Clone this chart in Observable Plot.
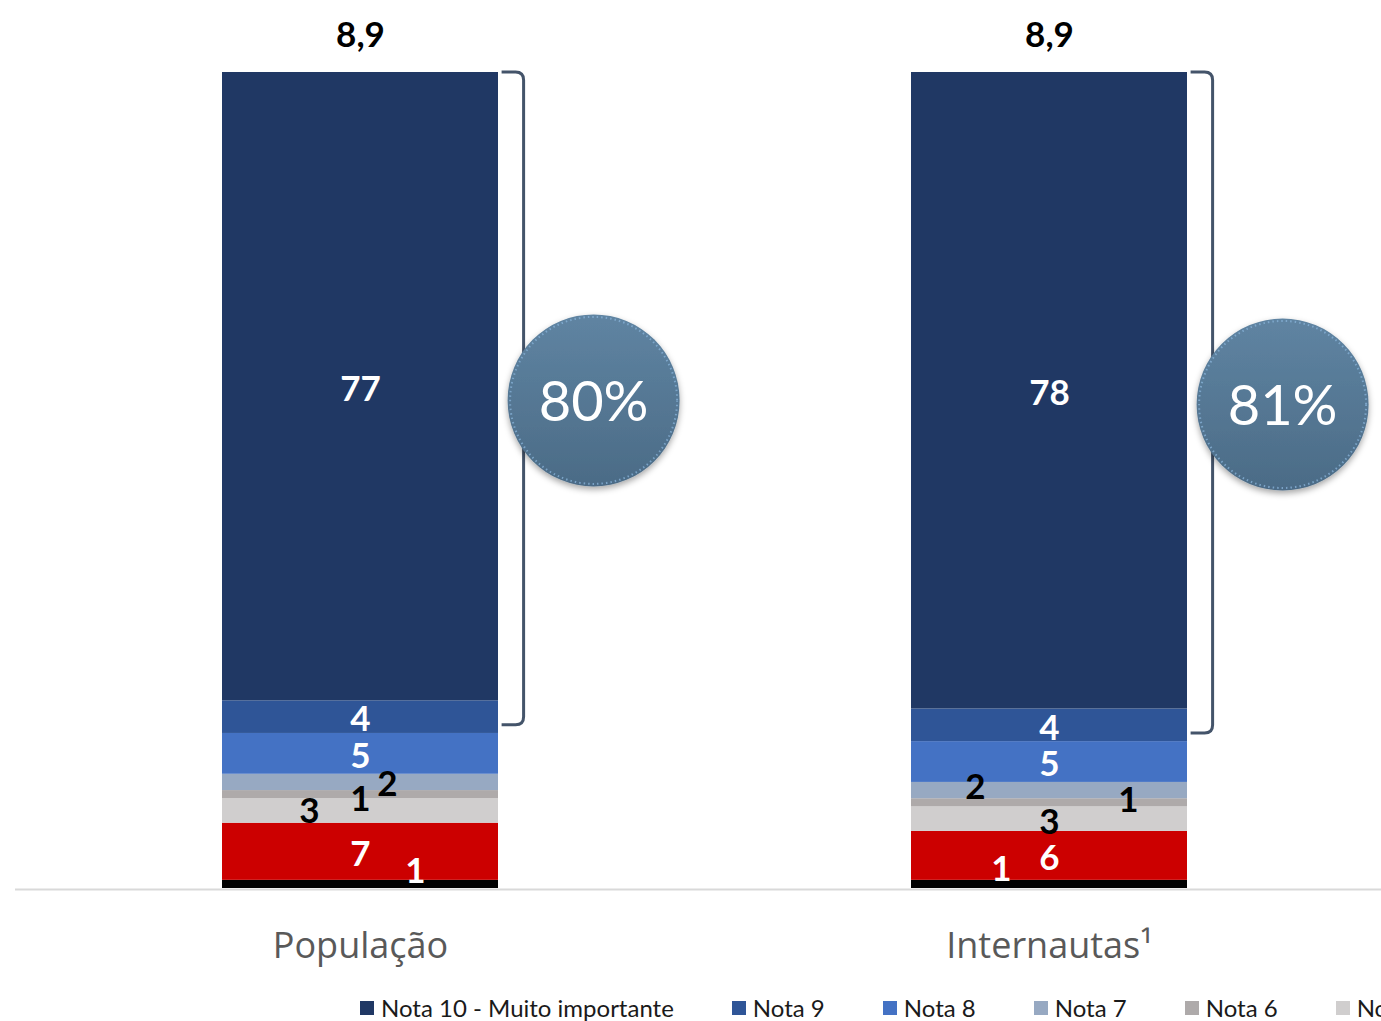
<!DOCTYPE html>
<html lang="pt-BR">
<head>
<meta charset="utf-8">
<script src="https://cdn.jsdelivr.net/npm/d3@7"></script>
<script src="https://cdn.jsdelivr.net/npm/@observablehq/plot@0.6"></script>
<style>
  html, body { margin: 0; padding: 0; background: #fff; }
  body { width: 1381px; height: 1021px; overflow: hidden; position: relative; }
  #legend {
    position: absolute; top: 995px; left: 360px;
    display: flex; gap: 58px; white-space: nowrap;
    font-family: Lato, "Open Sans", sans-serif; font-size: 24px; line-height: 26px; color: #1a1a1a;
  }
  #legend .item { display: flex; align-items: center; gap: 7px; }
  #legend .sw { width: 14px; height: 14px; display: inline-block; }
</style>
</head>
<body>
<div id="chart"></div>
<div id="legend"></div>
<script>
// Groups (bars) and rating bands, stacked bottom to top
const groups = ["População", "Internautas¹"];
const notas = ["Não sabe / Não respondeu", "Nota 0 a 4", "Nota 5", "Nota 6", "Nota 7", "Nota 8", "Nota 9", "Nota 10 - Muito importante"];
const colors = ["#000000", "#CC0000", "#D0CECE", "#AEAAAA", "#97A9C2", "#4472C4", "#2F5597", "#203864"];

// Percentages per band, same order as notas
const populacao = [1, 7, 3, 1, 2, 5, 4, 77];
const internautas = [1, 6, 3, 1, 2, 5, 4, 78];

// Average score above each bar, and share of notas 9 + 10
const mediaLabels = ["8,9", "8,9"];
const topTwo = [80, 81];

// Tidy table for the stacked bars
const seriesByGroup = [populacao, internautas];
const rows = groups.flatMap((g, gi) =>
  notas.map((n, ni) => ({group: g, nota: n, value: seriesByGroup[gi][ni]}))
);

// Thin bands get their label nudged sideways so they do not collide
const nudges = [
  {group: "População", nota: "Nota 7", dx: 27, dy: 2},
  {group: "População", nota: "Nota 6", dx: 0, dy: 5},
  {group: "População", nota: "Nota 5", dx: -51, dy: 1},
  {group: "População", nota: "Não sabe / Não respondeu", dx: 55, dy: -13},
  {group: "Internautas¹", nota: "Nota 7", dx: -74, dy: -3},
  {group: "Internautas¹", nota: "Nota 6", dx: 79, dy: -2},
  {group: "Internautas¹", nota: "Nota 5", dx: 0, dy: 4},
  {group: "Internautas¹", nota: "Não sabe / Não respondeu", dx: -48, dy: -15}
];
const darkText = new Set(["Nota 5", "Nota 6", "Nota 7"]);
const nudgeOf = (d) => nudges.find((n) => n.group === d.group && n.nota === d.nota);

const W = 1381, H = 990;
const PAD_INNER = 0.6;

const labelFont = "Lato, 'Open Sans', sans-serif";

// Every label mark stacks the full table (so positions stay right) and
// only prints the text for its own subset of bands.
const labelMark = (keep, dx, dy) => Plot.text(rows, Plot.stackY({
  x: "group", y: "value", z: "nota",
  text: (d) => keep(d) ? String(d.value) : "",
  fill: (d) => darkText.has(d.nota) ? "#000" : "#fff",
  fontSize: 35, fontWeight: "bold", fontFamily: labelFont, dx, dy
}));

const labelMarks = [labelMark((d) => !nudgeOf(d), 0, 3)];
for (const n of nudges) {
  labelMarks.push(labelMark((d) => d.group === n.group && d.nota === n.nota, n.dx, n.dy));
}

// Bracket plus circle badge for the notas 9–10 share
function badges(index, scales) {
  const x = scales.x, y = scales.y;
  const step = x(groups[1]) - x(groups[0]);
  const bw = step * (1 - PAD_INNER);
  const g = d3.create("svg:g");
  const defs = g.append("defs");
  const grad = defs.append("linearGradient").attr("id", "badgeFill")
    .attr("x1", 0).attr("y1", 0).attr("x2", 0).attr("y2", 1);
  grad.append("stop").attr("offset", "0%").attr("stop-color", "#5f84a2");
  grad.append("stop").attr("offset", "100%").attr("stop-color", "#4b6b86");
  const flt = defs.append("filter").attr("id", "badgeShadow")
    .attr("x", "-30%").attr("y", "-30%").attr("width", "160%").attr("height", "160%");
  flt.append("feDropShadow").attr("dx", 0).attr("dy", 3).attr("stdDeviation", 3)
    .attr("flood-color", "#000").attr("flood-opacity", 0.35);

  groups.forEach((grp, i) => {
    const right = x(grp) + bw;
    const yTop = y(100), yBot = y(100 - topTwo[i]);
    const x0 = right + 4, xv = right + 26, r = 8;
    g.append("path")
      .attr("d", `M${x0},${yTop}H${xv - r}Q${xv},${yTop} ${xv},${yTop + r}V${yBot - r}Q${xv},${yBot} ${xv - r},${yBot}H${x0}`)
      .attr("fill", "none").attr("stroke", "#44546A").attr("stroke-width", 3);
    const cx = right + 96, cy = (yTop + yBot) / 2 + 2, rad = 86;
    g.append("circle").attr("cx", cx).attr("cy", cy).attr("r", rad)
      .attr("fill", "url(#badgeFill)").attr("filter", "url(#badgeShadow)");
    g.append("circle").attr("cx", cx).attr("cy", cy).attr("r", rad - 2.5)
      .attr("fill", "none").attr("stroke", "#86b0d6").attr("stroke-width", 2)
      .attr("stroke-dasharray", "1.5 3").attr("opacity", 0.8);
    g.append("text").attr("x", cx).attr("y", cy).attr("dy", "0.36em")
      .attr("text-anchor", "middle").attr("fill", "#fff")
      .attr("font-family", labelFont).attr("font-size", 56)
      .text(`${topTwo[i]}%`);
  });
  return g.node();
}

const chart = Plot.plot({
  width: W, height: H,
  marginLeft: 222, marginRight: 194, marginTop: 72, marginBottom: H - 888,
  style: {fontFamily: labelFont, background: "#fff", overflow: "visible"},
  x: {domain: groups, paddingInner: PAD_INNER, paddingOuter: 0, label: null},
  y: {domain: [0, 100], axis: null},
  color: {domain: notas, range: colors},
  marks: [
    Plot.barY(rows, {x: "group", y: "value", z: "nota", fill: "nota"}),
    Plot.ruleY([0], {stroke: "#d9d9d9", strokeWidth: 2, dy: 1, insetLeft: -207, insetRight: -200}),
    Plot.axisX({tickSize: 0, tickPadding: 44, fontSize: 36, fill: "#595959", fontFamily: "'Open Sans', sans-serif", label: null}),
    ...labelMarks,
    Plot.text(groups, {x: (d) => d, y: () => 100, text: (d, i) => mediaLabels[i],
      fontSize: 35, fontWeight: "bold", fill: "#000", dy: -37, fontFamily: labelFont}),
    badges
  ]
});
document.getElementById("chart").appendChild(chart);

// Legend, top band first
const legend = d3.select("#legend");
for (let i = notas.length - 1; i >= 0; i--) {
  const item = legend.append("div").attr("class", "item");
  item.append("span").attr("class", "sw").style("background", colors[i]);
  item.append("span").text(notas[i]);
}
</script>
</body>
</html>
